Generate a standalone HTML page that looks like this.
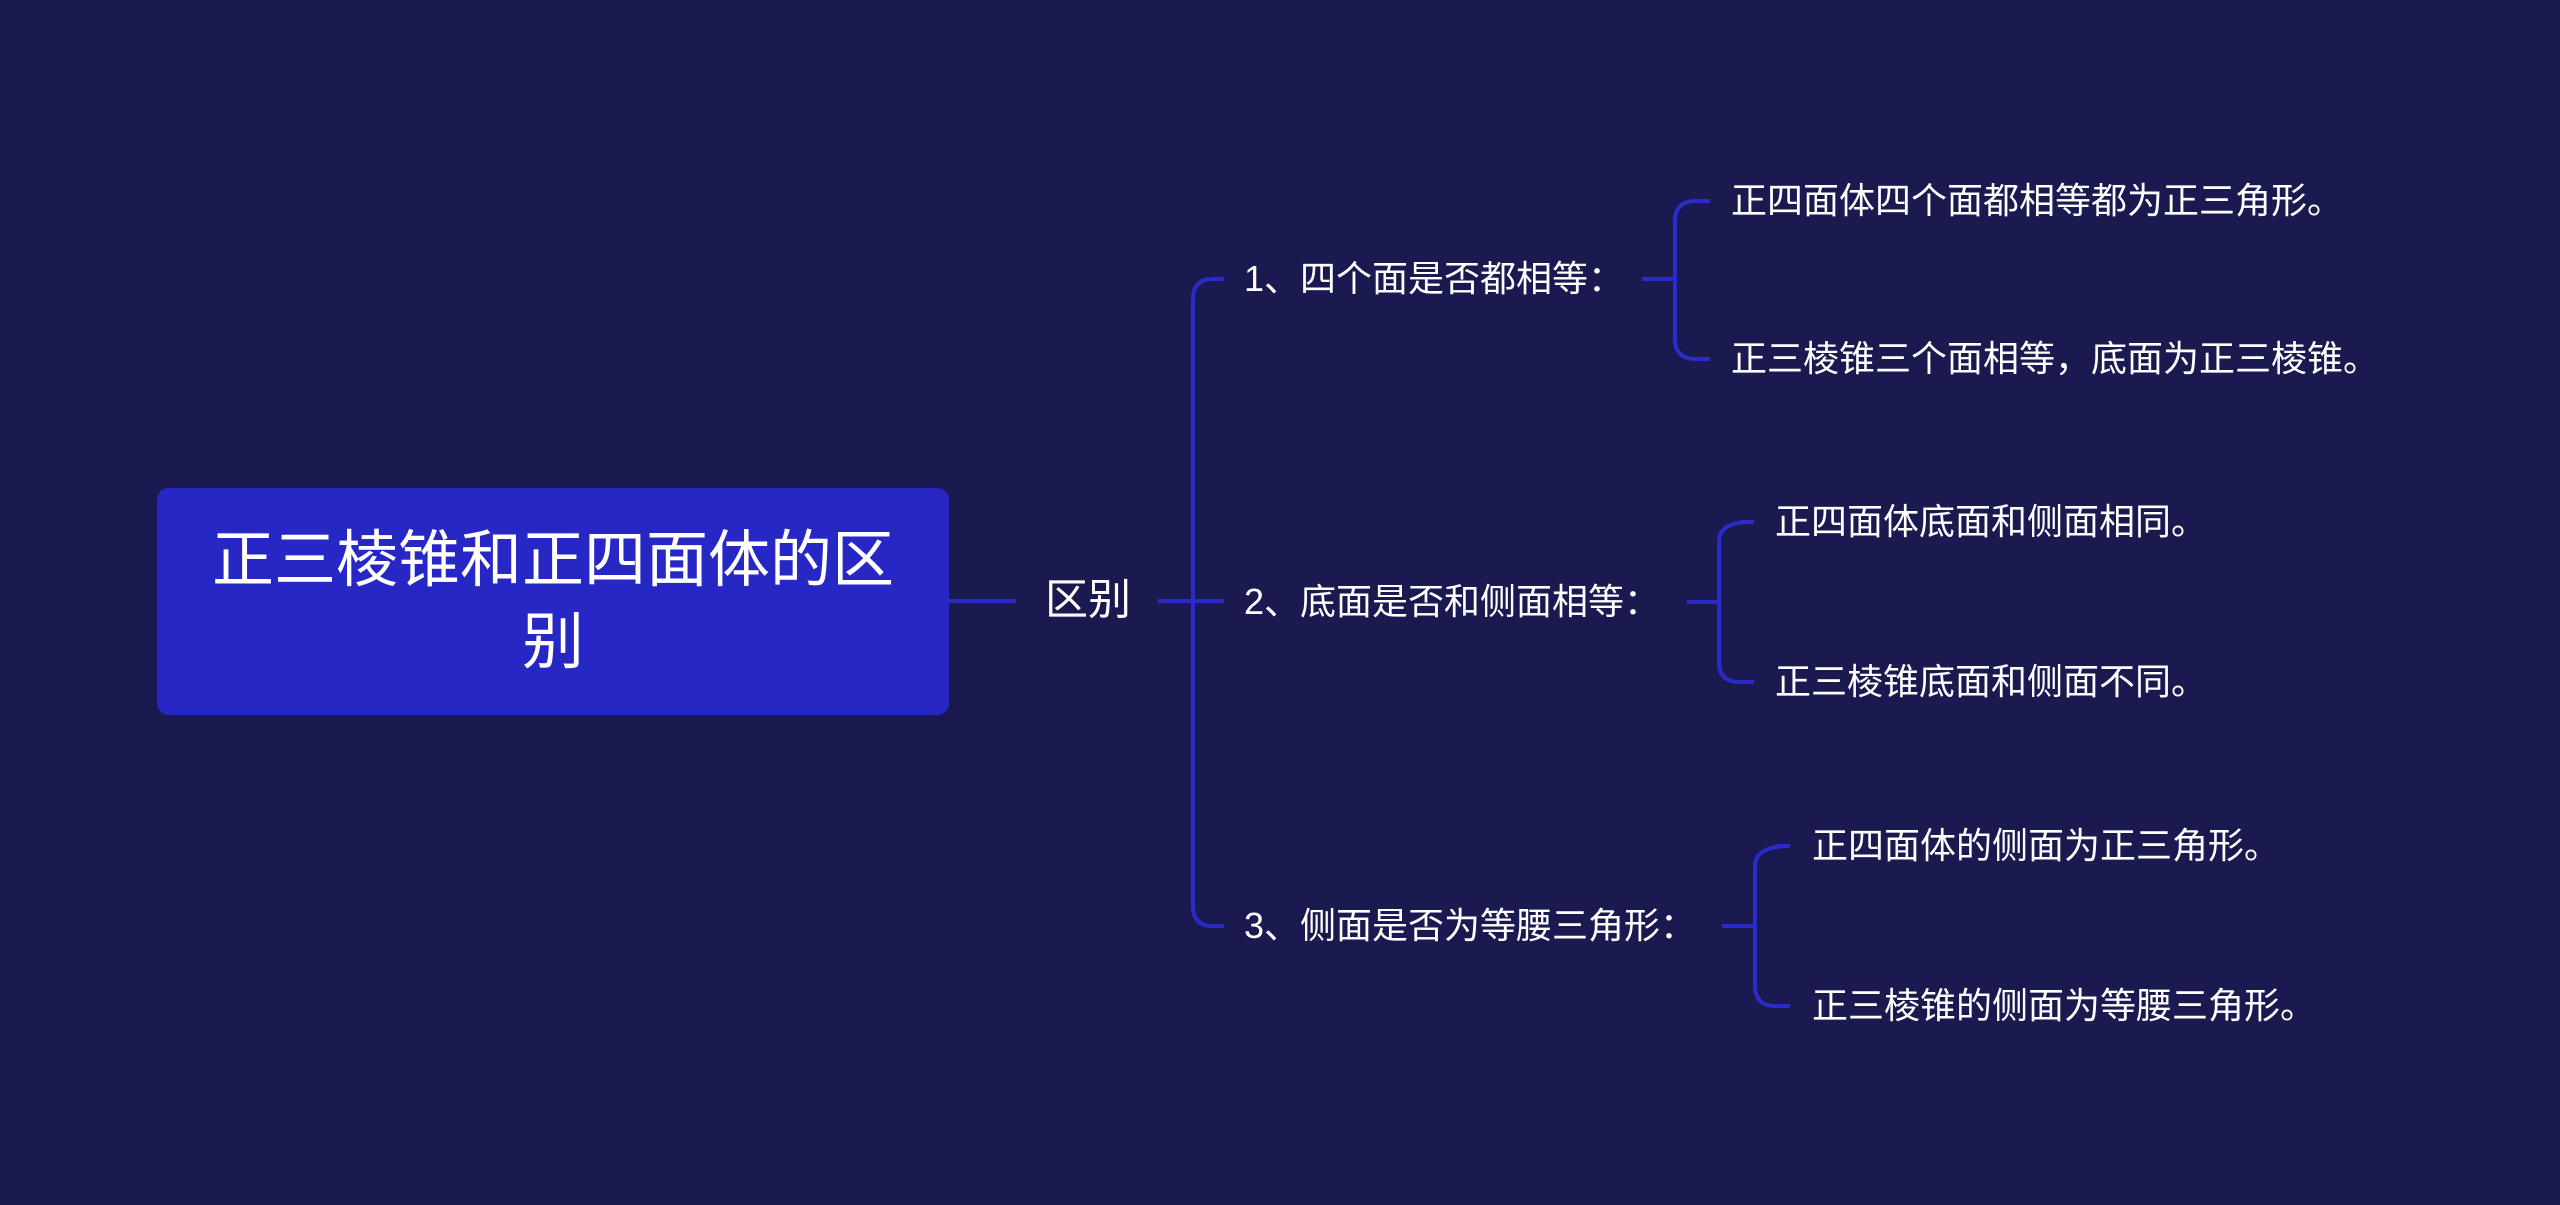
<!DOCTYPE html>
<html><head><meta charset="utf-8"><style>
html,body{margin:0;padding:0}
body{width:2560px;height:1205px;background:#1a1a50;position:relative;overflow:hidden;font-family:"Liberation Sans","Noto Sans CJK SC",sans-serif;color:#fff}
.t{position:absolute;white-space:nowrap;line-height:1;transform:translateY(-50%)}
.root{position:absolute;left:157px;top:488px;width:792px;height:227px;background:#2727c6;border-radius:12px;display:flex;align-items:center;justify-content:center;text-align:center;font-size:62px;line-height:82px;padding:0 50px;box-sizing:border-box}
.l2{font-size:36px}
.l3{font-size:36px}
</style></head><body>
<svg width="2560" height="1205" style="position:absolute;left:0;top:0" fill="none" stroke="#2b2bc8" stroke-width="4">
<path d="M949 601H1016"/>
<path d="M1158 601H1224"/>
<path d="M1224 279H1213Q1193 279 1193 299V906Q1193 926 1213 926H1224"/>
<path d="M1642 279H1675"/>
<path d="M1696 201Q1675 201 1675 221V339Q1675 359 1696 359H1710"/>
<path d="M1696 201H1710"/>
<path d="M1687 602H1719"/>
<path d="M1750 522Q1719 522 1719 542V662Q1719 682 1740 682H1754"/>
<path d="M1740 522H1754"/>
<path d="M1722 926H1755"/>
<path d="M1790 846Q1755 846 1755 866V986Q1755 1006 1776 1006H1790"/>
<path d="M1776 846H1790"/>
</svg>
<div class="root">正三棱锥和正四面体的区别</div>
<div class="t" style="left:1045px;top:601px;font-size:43px">区别</div>
<div class="t l2" style="left:1244px;top:279px">1、四个面是否都相等：</div>
<div class="t l2" style="left:1244px;top:602px">2、底面是否和侧面相等：</div>
<div class="t l2" style="left:1244px;top:926px">3、侧面是否为等腰三角形：</div>
<div class="t l3" style="left:1731px;top:201px">正四面体四个面都相等都为正三角形。</div>
<div class="t l3" style="left:1731px;top:359px">正三棱锥三个面相等，底面为正三棱锥。</div>
<div class="t l3" style="left:1775px;top:522px">正四面体底面和侧面相同。</div>
<div class="t l3" style="left:1775px;top:682px">正三棱锥底面和侧面不同。</div>
<div class="t l3" style="left:1812px;top:846px">正四面体的侧面为正三角形。</div>
<div class="t l3" style="left:1812px;top:1006px">正三棱锥的侧面为等腰三角形。</div>
</body></html>
